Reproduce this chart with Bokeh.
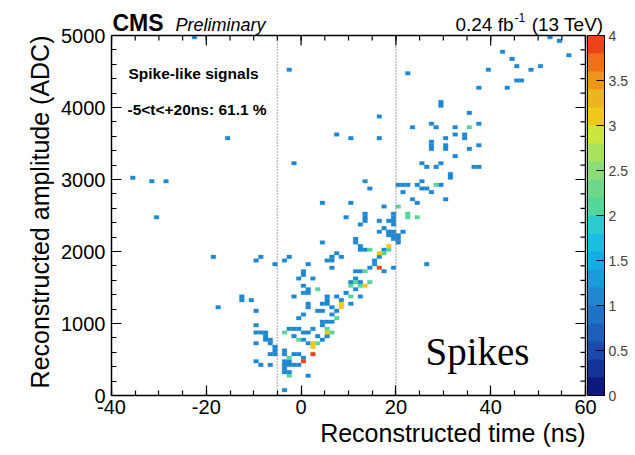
from bokeh.plotting import figure
from bokeh.models import (ColumnDataSource, LinearColorMapper, ColorBar, FixedTicker,
                          Label, Range1d, CustomJSTickFormatter, Title)
from bokeh.embed import file_html
from bokeh.resources import INLINE

# ---------------- data: 2D histogram cells (lower bin edges) ----------------
# bins: 1 ns in time, 50 ADC in amplitude
ones_time = [
    -23, -3, -16, -36, -32, -29, -31, -2, 7, 4, -19, -18, -13, -13, -11, -10, -9, -6, -4, -3,
    52, 54, 56, 42, 44, 45, 48, 50, 39, 37, 43, 45, 46, 22, 29, 29, 16, 10, 16, 27, 28, 23, 32, 37,
    35, 32, 34, 34, 30, 27, 27, 27, 30, 30, 35, 37, 31, 31, 32, 25, 26, 28, 29, 36, 37,
    13, 14, 20, 21, 22, 24, 25, 25, 26, 27, 29, 21, 23, 30, 24, 17, 13, 13, 9, 19, 19, 19, 16, 10,
    12, 13, 18, 19, 11, 18,
    17, 18, 19, 16, 18, 19, 20, 21, 20, 19, 20, 4, 11, 12, 12, 17, 13, 7, 6, 8, 16, 1, 5, 6, 15, 15,
    14, 17, 19, 6, 26, -1, 0, 0, 2, 12, 11, 11, 10, 12, 11, 1, 0, 0, 1,
    -2, 5, 5, 7, 9, 12, 8, 6, 5, 4, 3, 4, 10, 7, 6, -10, -10, 1, -1, 0, 1,
    -3, -1, -2, 4, 5, 6, 4, 2, 1, 0,
    -10, -9, -8, -8, -8, -7, -6, -10, -7, -2, 0, 1, 4, 5, 3,
    -6, -6, -7, -4, -2, -1, 0, -10, -9, -7, -4, -4, -3, -2, -1, -4, -3,
    -4, -4, -3, 1, -4,
]
ones_amp = [
    4950, 4500, 3550, 3000, 2950, 2950, 2450, 3200, 3600, 2650, 1900, 1200, 1350, 1300, 1300, 1850, 1900, 1800, 1850, 1900,
    4950, 4900, 4700, 4750, 4650, 4550, 4500, 4550, 4500, 4250, 4250, 4350, 4350, 4450, 4050, 4000, 3850, 3550, 3550, 3750, 3700, 3700, 3700, 3750,
    3900, 3600, 3600, 3550, 3550, 3500, 3450, 3400, 3450, 3400, 3400, 3450, 3050, 3000, 3300, 3200, 3150, 3150, 3200, 3150, 3150,
    2950, 2850, 2900, 2900, 2900, 2900, 2950, 2850, 2850, 2800, 2900, 2800, 2700, 2700, 2650, 2600, 2500, 2450, 2450, 2500, 2400, 2350, 2400, 2650,
    2350, 2400, 2400, 2450, 2150, 2250,
    2300, 2250, 2250, 2250, 2200, 2200, 2200, 2250, 2150, 2150, 2100, 2100, 2100, 2050, 2000, 2000, 2000, 1950, 1900, 1900, 1900, 1800, 1850, 1850, 1850, 1800,
    1750, 1700, 1750, 1750, 1800, 1600, 1650, 1700, 1600, 1700, 1700, 1600, 1550, 1550, 1450, 1450, 1400, 1500, 1400,
    1350, 1350, 1300, 1350, 1400, 1350, 1300, 1200, 1250, 1250, 1150, 1150, 1250, 1150, 1100, 1150, 950, 1200, 1050, 1100, 1250,
    900, 900, 900, 1000, 1000, 1000, 950, 900, 850, 850,
    850, 850, 850, 800, 750, 700, 650, 700, 750, 800, 750, 700, 750, 800, 800,
    550, 600, 550, 600, 550, 550, 500, 450, 400, 400, 450, 400, 400, 400, 400, 550, 450,
    350, 300, 300, 250, 50,
]
twos_time = [28, 35, 20, 22, 22, 24, 14, 17, 18, 13, 11, 14, 3, 10, 10, 12, 7, 5, 6, -4, -1, 3, -3, -3]
twos_amp = [2900, 3700, 2600, 2500, 2450, 2450, 2000, 1950, 2000, 1700, 1550, 1550, 1450, 1500, 1350, 1500,
            1050, 900, 850, 850, 750, 700, 500, 250]
threes_time = [18, 16, 13, 8, 8, 5, 2, 2]
threes_amp = [2050, 1950, 1500, 1250, 1200, 850, 700, 650]
fours_time = [16, 0, 2]
fours_amp = [1750, 450, 550]

x_lo, x_hi = -40, 60
y_lo, y_hi = 0, 5000
x_major = [-40, -20, 0, 20, 40, 60]
x_minor = list(range(-40, 61, 5))
y_major = [0, 1000, 2000, 3000, 4000, 5000]
y_minor = list(range(0, 5001, 200))
z_ticks = [0, 0.5, 1, 1.5, 2, 2.5, 3, 3.5, 4]
window_lo, window_hi = -5, 20

palette = ["#0c1a7e", "#14339a", "#1a4aac", "#1c5fbb", "#1d73c6",
           "#1f88d2", "#1a9bde", "#13aee6", "#18bfe2", "#2ccbcf",
           "#55d69a", "#6cd98a", "#8ade74", "#aae35a", "#cce63e",
           "#f0c818", "#ecb41e", "#ee961c", "#f07018", "#ec4418"]

# ---------------- build ----------------
t_all = ones_time + twos_time + threes_time + fours_time
a_all = ones_amp + twos_amp + threes_amp + fours_amp
n_all = [1] * len(ones_time) + [2] * len(twos_time) + [3] * len(threes_time) + [4] * len(fours_time)
src = ColumnDataSource(dict(left=t_all, right=[t + 1 for t in t_all],
                            bottom=a_all, top=[a + 50 for a in a_all], n=n_all))

mapper = LinearColorMapper(palette=palette, low=0, high=4)

FONT = "Liberation Sans"
W, H = 635, 455
FL, FR, FT, FB = 111, 585, 35, 395  # histogram box in page pixels
XPP = (x_hi - x_lo) / (FR - FL)      # data units per pixel
YPP = (y_hi - y_lo) / (FB - FT)

def tx(px):
    return x_lo + (px - FL) * XPP
def ay(py):
    return y_lo + (FB - py) * YPP

# the drawing frame reaches the top and right page edges so that header texts
# and the colour scale can live inside it; the histogram box is x_lo..x_hi, y_lo..y_hi
p = figure(title=None, frame_width=W - FL, frame_height=FB,
           x_range=Range1d(x_lo, tx(W)), y_range=Range1d(y_lo, ay(0)),
           output_backend="svg", toolbar_location=None,
           min_border_left=FL, min_border_top=0, min_border_bottom=H - FB,
           min_border_right=0, background_fill_color="white", border_fill_color="white",
           outline_line_color=None)
p.xgrid.visible = False
p.ygrid.visible = False

def style_axis(ax, ticks, minors, bounds):
    ax.ticker = FixedTicker(ticks=ticks, minor_ticks=minors)
    ax.bounds = bounds
    ax.axis_line_color = "black"
    ax.axis_line_width = 1.5
    ax.major_tick_in = 10
    ax.major_tick_out = 0
    ax.minor_tick_in = 5
    ax.minor_tick_out = 0
    ax.major_tick_line_color = "black"
    ax.minor_tick_line_color = "black"
    ax.major_tick_line_width = 1.2
    ax.minor_tick_line_width = 1.2
    ax.formatter = CustomJSTickFormatter(code="return tick.toString()")
    ax.major_label_text_font = FONT
    ax.major_label_text_color = "black"
    ax.major_label_text_font_size = "20px"
    ax.major_label_standoff = 4

style_axis(p.xaxis[0], x_major, x_minor, (x_lo, x_hi))
style_axis(p.yaxis[0], y_major, y_minor, (y_lo, y_hi))
p.yaxis[0].major_label_standoff = 6

# histogram cells
p.quad(left="left", right="right", bottom="bottom", top="top", source=src,
       fill_color={"field": "n", "transform": mapper},
       line_color={"field": "n", "transform": mapper}, line_width=0.3)

# dotted timing window
p.segment(x0=[window_lo, window_hi], y0=[y_lo, y_lo], x1=[window_lo, window_hi], y1=[y_hi, y_hi],
          line_color="#808080", line_dash="1 2", line_width=1.5)

# top and right edges of the box, with inward ticks (mirror of the bottom/left axes)
p.segment(x0=[x_lo, x_hi], y0=[y_hi, y_lo], x1=[x_hi, x_hi], y1=[y_hi, y_hi],
          line_color="black", line_width=1.5)
big_y, small_y = 10 * YPP, 5 * YPP
big_x, small_x = 10 * XPP, 5 * XPP
p.segment(x0=x_major, y0=[y_hi] * len(x_major), x1=x_major, y1=[y_hi - big_y] * len(x_major),
          line_color="black", line_width=1.2)
p.segment(x0=x_minor, y0=[y_hi] * len(x_minor), x1=x_minor, y1=[y_hi - small_y] * len(x_minor),
          line_color="black", line_width=1.2)
p.segment(x0=[x_hi] * len(y_major), y0=y_major, x1=[x_hi - big_x] * len(y_major), y1=y_major,
          line_color="black", line_width=1.2)
p.segment(x0=[x_hi] * len(y_minor), y0=y_minor, x1=[x_hi - small_x] * len(y_minor), y1=y_minor,
          line_color="black", line_width=1.2)

# colour scale
cb = ColorBar(color_mapper=mapper, ticker=FixedTicker(ticks=z_ticks, minor_ticks=[]),
              formatter=CustomJSTickFormatter(code="return tick.toString()"),
              location=(FR + 2 - FL, 0), width=17, height=FB - FT, padding=0, margin=0,
              label_standoff=4,
              major_tick_in=8, major_tick_out=0, major_tick_line_color="black",
              minor_tick_line_color=None, bar_line_color="black", bar_line_width=1,
              major_label_text_font=FONT, major_label_text_font_size="14px",
              border_line_color=None, background_fill_color=None)
p.add_layout(cb)

# axis titles (ROOT style: aligned to the end of the axis)
xt = Title(text="Reconstructed time (ns)", align="right", text_font=FONT,
           text_font_size="25px", text_font_style="normal", text_color="black",
           standoff=0, offset=W - FR)
p.add_layout(xt, "below")
yt = Title(text="Reconstructed amplitude (ADC)", align="right", text_font=FONT,
           text_font_size="25px", text_font_style="normal", text_color="black",
           standoff=10, offset=FT)
p.add_layout(yt, "left")

def lab(px, base, text, size, align="left", style="normal", font=FONT):
    fs = float(size.replace("px", ""))
    p.add_layout(Label(x=tx(px), y=ay(base - 0.22 * fs), text=text, text_font=font,
                       text_font_size=size, text_font_style=style, text_align=align,
                       text_baseline="alphabetic", text_color="black"))

# header
lab(112, 28, "CMS", "23px", style="bold")
lab(175, 28, "Preliminary", "18px", style="italic")
lab(513, 28, "0.24 fb", "19px", align="right")
lab(514, 20, "-1", "12px")
lab(603, 28, "(13 TeV)", "19px", align="right")

# texts inside the box
lab(128, 76, "Spike-like signals", "15.5px", style="bold")
lab(127, 112, "-5<t<+20ns: 61.1 %", "15.5px", style="bold")
lab(425, 360, "Spikes", "39px", font="Liberation Serif")

open("out.html", "w").write(file_html(p, INLINE))
